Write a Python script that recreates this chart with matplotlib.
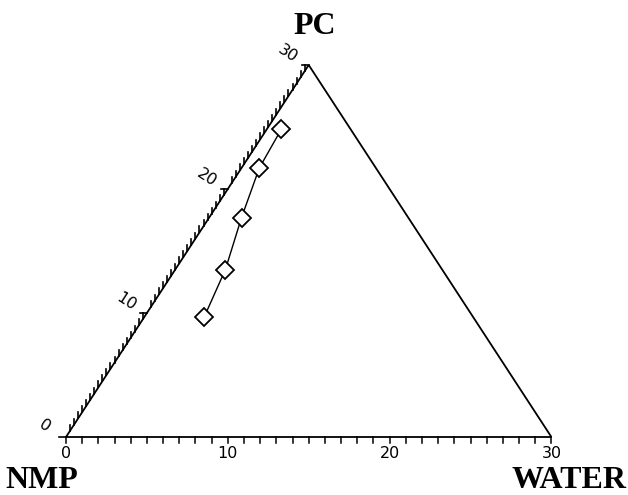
import numpy as np
import matplotlib
matplotlib.use("Agg")
import matplotlib.pyplot as plt

# composition points (scale 0..30)
pc = [24.8, 21.7, 17.7, 13.5, 9.7]
water = [0.9, 1.1, 2.0, 3.1, 3.7]
axis_labels = [0, 10, 20, 30]

H = 1.0  # vertical units per PC unit (pixels fixed by axis limits)


def tern(w, p):
    w = np.asarray(w, float)
    p = np.asarray(p, float)
    return w + p / 2.0, p * H


fig = plt.figure(figsize=(6.28, 4.95), dpi=100)
ax = fig.add_axes([0, 0, 1, 1])
# pixel mapping: x=0 at px 66, 16.18 px/unit ; y=0 at px 437, 12.4 px/unit
sx, sy = 16.18, 12.4
ax.set_xlim(-66 / sx, (628 - 66) / sx)
ax.set_ylim(-(495 - 437) / sy, 437 / sy)
ax.axis("off")

# triangle
tx, ty = tern([0, 30, 0, 0], [0, 0, 30, 0])
ax.plot(tx, ty, color="black", lw=1.3, solid_joinstyle="miter")

# bottom ticks (water)
for v in range(0, 31):
    ax.plot([v, v], [0, -6 / sy], color="black", lw=1.1)
for v in axis_labels:
    ax.text(v, -16 / sy, str(v), ha="center", va="center", fontsize=11.5)

# left ticks (PC)
for k in range(0, 61):
    p = k / 2.0
    x0, y0 = tern(0, p)
    if k % 20 == 0:
        ax.plot([x0, x0 - 7 / sx], [y0, y0], color="black", lw=1.2)
    else:
        ax.plot([x0, x0], [y0, y0 + 6 / sy], color="black", lw=1.2)
for v in axis_labels:
    x0, y0 = tern(0, v)
    ax.text(x0 - 21 / sx, y0 + 11 / sy, str(v), ha="center", va="center",
            fontsize=11.5, rotation=-33)

# data
px, py = tern(water, pc)
ax.plot(px, py, color="black", lw=1.0, marker="D", ms=9.5,
        mfc="white", mec="black", mew=1.3)

# corner names
ax.text((315 - 66) / sx, (437 - 26) / sy, "PC", ha="center", va="center",
        fontsize=23, fontweight="bold", family="Liberation Serif")
ax.text((42 - 66) / sx, (437 - 481) / sy, "NMP", ha="center", va="center",
        fontsize=23, fontweight="bold", family="Liberation Serif")
ax.text((569 - 66) / sx, (437 - 481) / sy, "WATER", ha="center", va="center",
        fontsize=23, fontweight="bold", family="Liberation Serif")

fig.savefig("out.png", dpi=100)
